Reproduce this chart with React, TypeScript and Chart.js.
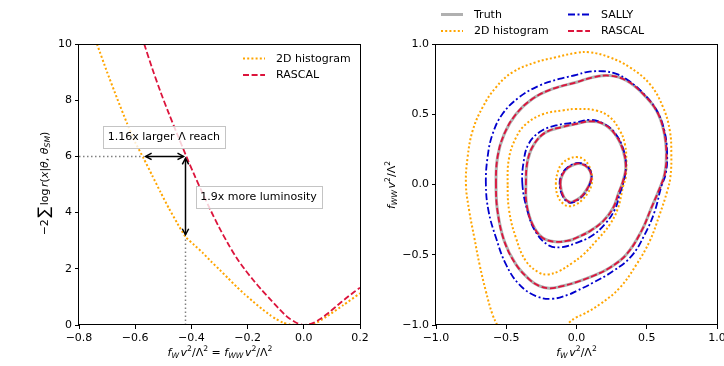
import React, { useEffect, useRef } from "react";
import { Chart, registerables } from "chart.js";
Chart.register(...registerables);

const FONT = '"DejaVu Sans", "Liberation Sans", sans-serif';
const MINUS = "\u2212";
const ORANGE = "#ffa500";
const CRIMSON = "#dc143c";
const BLUE = "#0000cd";
const GREY = "#b0b0b0";

// ---------- left panel: 1D likelihood scan ----------
const leftXRange = [-0.8, 0.2];
const leftYRange = [0, 10];
const leftXTicks = [-0.8, -0.6, -0.4, -0.2, 0.0, 0.2];
const leftYTicks = [0, 2, 4, 6, 8, 10];

const histScanX = [-0.736, -0.7, -0.665, -0.63, -0.6, -0.57, -0.54, -0.51, -0.48, -0.45, -0.421, -0.39, -0.358, -0.33, -0.299, -0.27, -0.239, -0.21, -0.18, -0.15, -0.121, -0.1, -0.073, -0.05, -0.02, 0.01, 0.04, 0.081, 0.141, 0.2];
const histScanY = [10.0, 9.0, 8.08, 7.2, 6.5, 5.93, 5.33, 4.73, 4.15, 3.62, 3.14, 2.85, 2.55, 2.26, 1.96, 1.67, 1.36, 1.09, 0.83, 0.58, 0.36, 0.22, 0.08, 0.02, 0.0, 0.0, 0.05, 0.3, 0.71, 1.13];

const rascalScanX = [-0.568, -0.54, -0.51, -0.48, -0.45, -0.42, -0.39, -0.36, -0.33, -0.3, -0.27, -0.24, -0.21, -0.18, -0.15, -0.12, -0.09, -0.06, -0.03, 0.0, 0.03, 0.06, 0.09, 0.12, 0.15, 0.18, 0.2];
const rascalScanY = [10.0, 9.15, 8.3, 7.52, 6.78, 6.05, 5.35, 4.68, 4.05, 3.45, 2.9, 2.4, 1.98, 1.6, 1.25, 0.92, 0.6, 0.3, 0.1, 0.0, 0.06, 0.22, 0.45, 0.7, 0.95, 1.18, 1.33];

const thresholdLevel = 6;
const histCrossing = -0.57;
const rascalCrossing = -0.421;
const histAtRascalCrossing = 3.14;
const reachLabel = { text: "1.16x larger \u039b reach", x: -0.498, y: 6.71 };
const lumiLabel = { text: "1.9x more luminosity", x: -0.161, y: 4.56 };

// ---------- right panel: 2D contours ----------
const rightRange = [-1, 1];
const rightTicks = [-1.0, -0.5, 0.0, 0.5, 1.0];

const truthOuter = [[-0.573, 0], [-0.562, 0.195], [-0.514, 0.36], [-0.431, 0.5], [-0.313, 0.61], [-0.171, 0.68], [0, 0.728], [0.118, 0.763], [0.237, 0.775], [0.355, 0.74], [0.474, 0.645], [0.569, 0.526], [0.621, 0.384], [0.64, 0.218], [0.628, 0.076], [0.595, -0.02], [0.533, -0.166], [0.462, -0.332], [0.355, -0.498], [0.237, -0.592], [0.118, -0.651], [0, -0.695], [-0.1, -0.723], [-0.194, -0.739], [-0.27, -0.72], [-0.336, -0.675], [-0.431, -0.569], [-0.514, -0.403], [-0.562, -0.19]];
const truthMiddle = [[-0.36, 0], [-0.348, 0.17], [-0.3, 0.29], [-0.218, 0.372], [-0.1, 0.41], [0, 0.432], [0.095, 0.45], [0.19, 0.432], [0.273, 0.36], [0.332, 0.242], [0.351, 0.123], [0.33, 0.02], [0.3, -0.06], [0.261, -0.166], [0.19, -0.26], [0.095, -0.332], [0, -0.379], [-0.052, -0.398], [-0.147, -0.408], [-0.242, -0.379], [-0.313, -0.284], [-0.355, -0.142]];
const truthInner = [[-0.115, 0], [-0.1, 0.07], [-0.06, 0.12], [0, 0.148], [0.04, 0.145], [0.08, 0.12], [0.105, 0.07], [0.1, 0.02], [0.07, -0.04], [0.03, -0.09], [-0.02, -0.12], [-0.05, -0.125], [-0.09, -0.09]];

const rascalOuter = truthOuter.map((p) => [p[0], p[1]]);
const rascalMiddle = truthMiddle.map((p) => [p[0], p[1]]);
const rascalInner = truthInner.map((p) => [p[0], p[1]]);

const sallyOuter = [[-0.645, 0], [-0.633, 0.194], [-0.597, 0.36], [-0.526, 0.503], [-0.408, 0.621], [-0.265, 0.704], [-0.123, 0.751], [0, 0.78], [0.071, 0.8], [0.19, 0.806], [0.284, 0.787], [0.37, 0.74], [0.474, 0.65], [0.569, 0.53], [0.625, 0.384], [0.645, 0.218], [0.635, 0.076], [0.604, -0.012], [0.557, -0.19], [0.486, -0.355], [0.391, -0.51], [0.261, -0.616], [0.118, -0.699], [0, -0.758], [-0.052, -0.782], [-0.171, -0.813], [-0.289, -0.794], [-0.408, -0.711], [-0.502, -0.569], [-0.573, -0.379], [-0.626, -0.19]];
const sallyMiddle = [[-0.385, 0], [-0.375, 0.17], [-0.34, 0.29], [-0.26, 0.375], [-0.147, 0.42], [0, 0.443], [0.095, 0.46], [0.19, 0.435], [0.275, 0.365], [0.335, 0.245], [0.352, 0.125], [0.335, 0.02], [0.31, -0.06], [0.273, -0.178], [0.2, -0.284], [0.107, -0.367], [0, -0.415], [-0.1, -0.445], [-0.194, -0.435], [-0.289, -0.34], [-0.348, -0.19]];
const sallyInner = [[-0.12, 0], [-0.105, 0.07], [-0.06, 0.125], [0, 0.152], [0.045, 0.148], [0.085, 0.12], [0.107, 0.07], [0.1, 0.02], [0.07, -0.045], [0.03, -0.095], [-0.02, -0.125], [-0.055, -0.128], [-0.095, -0.09]];

const histOuter = [[-0.565, -1.0], [-0.6, -0.92], [-0.645, -0.76], [-0.69, -0.57], [-0.727, -0.38], [-0.763, -0.19], [-0.787, 0.0], [-0.775, 0.194], [-0.739, 0.384], [-0.668, 0.55], [-0.573, 0.692], [-0.455, 0.799], [-0.289, 0.87], [-0.147, 0.905], [0.0, 0.937], [0.095, 0.941], [0.237, 0.905], [0.379, 0.834], [0.521, 0.716], [0.616, 0.55], [0.664, 0.384], [0.675, 0.218], [0.668, 0.05], [0.645, -0.05], [0.592, -0.213], [0.521, -0.403], [0.427, -0.569], [0.308, -0.735], [0.166, -0.853], [0.047, -0.924], [-0.005, -0.948], [-0.052, -0.983], [-0.065, -1.0]];
const histMiddle = [[-0.49, 0], [-0.48, 0.19], [-0.43, 0.335], [-0.36, 0.43], [-0.24, 0.5], [-0.1, 0.527], [0, 0.538], [0.14, 0.527], [0.237, 0.48], [0.308, 0.385], [0.344, 0.29], [0.355, 0.17], [0.35, 0.05], [0.332, -0.012], [0.296, -0.166], [0.237, -0.285], [0.142, -0.4], [0.047, -0.5], [-0.028, -0.557], [-0.123, -0.616], [-0.206, -0.64], [-0.265, -0.628], [-0.36, -0.545], [-0.431, -0.38], [-0.479, -0.19]];
const histInner = [[-0.147, 0], [-0.13, 0.1], [-0.1, 0.15], [-0.05, 0.185], [0, 0.195], [0.05, 0.18], [0.09, 0.13], [0.11, 0.06], [0.105, -0.01], [0.08, -0.06], [0.04, -0.11], [0, -0.14], [-0.05, -0.155], [-0.09, -0.14], [-0.13, -0.09]];

// ---------- styles ----------
const STYLE: Record<string, any> = {
  truth: { borderColor: GREY, borderWidth: 3, borderDash: [] },
  hist: { borderColor: ORANGE, borderWidth: 2, borderDash: [2, 2.2] },
  sally: { borderColor: BLUE, borderWidth: 1.8, borderDash: [7, 2.5, 2, 2.5] },
  rascal: { borderColor: CRIMSON, borderWidth: 1.8, borderDash: [6, 2.6] },
};

const fmt1 = (v: number) => (v < -1e-9 ? MINUS : "") + Math.abs(v).toFixed(1);
const fmtInt = (v: number) => String(Math.round(v));

function axis(range: number[], ticks: number[], fmt: (v: number) => string, size: number, isX: boolean) {
  return {
    type: "linear",
    min: range[0],
    max: range[1],
    afterBuildTicks: (s: any) => {
      s.ticks = ticks.map((v) => ({ value: v }));
    },
    afterFit: (s: any) => {
      if (isX) s.height = size;
      else s.width = size;
      s.paddingLeft = 0;
      s.paddingRight = 0;
      s.paddingTop = 0;
      s.paddingBottom = 0;
    },
    ticks: {
      callback: (v: any) => fmt(Number(v)),
      color: "#000",
      font: { family: FONT, size: 11 },
      padding: 3,
      maxRotation: 0,
      autoSkip: false,
    },
    grid: { display: true, drawOnChartArea: false, drawTicks: true, tickLength: 4, tickColor: "#000", tickWidth: 1, color: "#000" },
    border: { display: false },
  };
}

type Piece = { t: string; it?: boolean; sub?: boolean; sup?: boolean; scale?: number; dy?: number };

function drawMath(ctx: CanvasRenderingContext2D, pieces: Piece[], cx: number, cy: number, size: number, rotate: boolean) {
  ctx.save();
  ctx.translate(cx, cy);
  if (rotate) ctx.rotate(-Math.PI / 2);
  ctx.fillStyle = "#000";
  ctx.textBaseline = "alphabetic";
  ctx.textAlign = "left";
  const items = pieces.map((p) => {
    const fs = size * (p.sub || p.sup ? 0.7 : 1) * (p.scale || 1);
    const font = `${p.it ? "italic " : ""}${fs}px ${FONT}`;
    ctx.font = font;
    const w = ctx.measureText(p.t).width;
    const dy = p.sub ? size * 0.22 : p.sup ? -size * 0.42 : (p.dy || 0) * size;
    return { font, w, dy, t: p.t };
  });
  const total = items.reduce((s, i) => s + i.w, 0);
  let x = -total / 2;
  for (const i of items) {
    ctx.font = i.font;
    ctx.fillText(i.t, x, i.dy);
    x += i.w;
  }
  ctx.restore();
}

const thin: Piece = { t: " ", scale: 0.45 };
const fwLabel: Piece[] = [{ t: "f", it: true }, { t: "W", it: true, sub: true }, thin, { t: "v", it: true }, { t: "2", sup: true }, { t: "/\u039b" }, { t: "2", sup: true }];
const fwwLabel: Piece[] = [{ t: "f", it: true }, { t: "WW", it: true, sub: true }, thin, { t: "v", it: true }, { t: "2", sup: true }, { t: "/\u039b" }, { t: "2", sup: true }];
const leftXLabel: Piece[] = [...fwLabel, { t: " = " }, ...fwwLabel];
const leftYLabel: Piece[] = [
  { t: MINUS + "2" }, thin, { t: "\u2211", scale: 1.45, dy: 0.17 }, thin, { t: "log" }, thin,
  { t: "r", it: true }, { t: "(" }, { t: "x", it: true }, { t: "|" }, { t: "\u03b8", it: true }, { t: ", " },
  { t: "\u03b8", it: true }, { t: "SM", it: true, sub: true }, { t: ")" },
];

function styledLine(ctx: CanvasRenderingContext2D, st: any, x0: number, x1: number, y: number) {
  ctx.save();
  ctx.strokeStyle = st.borderColor;
  ctx.lineWidth = st.borderWidth;
  ctx.setLineDash(st.borderDash);
  ctx.beginPath();
  ctx.moveTo(x0, y);
  ctx.lineTo(x1, y);
  ctx.stroke();
  ctx.restore();
}

function legendItem(ctx: CanvasRenderingContext2D, st: any, label: string, x: number, y: number) {
  styledLine(ctx, st, x, x + 22, y);
  ctx.save();
  ctx.fillStyle = "#000";
  ctx.font = `11px ${FONT}`;
  ctx.textBaseline = "middle";
  ctx.textAlign = "left";
  ctx.fillText(label, x + 33, y + 0.5);
  ctx.restore();
}

const framePlugin = {
  id: "frame",
  afterDatasetsDraw(chart: any) {
    const { ctx, chartArea: a } = chart;
    ctx.save();
    ctx.strokeStyle = "#000";
    ctx.lineWidth = 1;
    ctx.setLineDash([]);
    ctx.strokeRect(Math.round(a.left) - 0.5, Math.round(a.top) + 0.5, Math.round(a.right - a.left) + 1, Math.round(a.bottom - a.top) - 1);
    ctx.restore();
  },
};

// close contour datasets smoothly (same mechanism the radar controller uses)
const loopPlugin = {
  id: "loopClose",
  afterDatasetUpdate(chart: any, args: any) {
    const ds = chart.data.datasets[args.index];
    const line = args.meta && args.meta.dataset;
    if (ds && ds.closed && line) {
      line._loop = true;
      line._fullLoop = true;
      line._pointsUpdated = false;
      delete line._segments;
      delete line._path;
    }
  },
};

function arrowHead(ctx: CanvasRenderingContext2D, x: number, y: number, ang: number) {
  const len = 6, half = 3.2;
  const ca = Math.cos(ang), sa = Math.sin(ang);
  ctx.beginPath();
  ctx.moveTo(x - len * ca - half * sa, y - len * sa + half * ca);
  ctx.lineTo(x, y);
  ctx.lineTo(x - len * ca + half * sa, y - len * sa - half * ca);
  ctx.stroke();
}

function doubleArrow(ctx: CanvasRenderingContext2D, x0: number, y0: number, x1: number, y1: number) {
  const shrink = 2;
  const d = Math.hypot(x1 - x0, y1 - y0);
  const ux = (x1 - x0) / d, uy = (y1 - y0) / d;
  const ax = x0 + ux * shrink, ay = y0 + uy * shrink;
  const bx = x1 - ux * shrink, by = y1 - uy * shrink;
  ctx.beginPath();
  ctx.moveTo(ax, ay);
  ctx.lineTo(bx, by);
  ctx.stroke();
  const ang = Math.atan2(uy, ux);
  arrowHead(ctx, bx, by, ang);
  arrowHead(ctx, ax, ay, ang + Math.PI);
}

function textBox(ctx: CanvasRenderingContext2D, text: string, cx: number, cy: number) {
  ctx.save();
  ctx.font = `11px ${FONT}`;
  const w = ctx.measureText(text).width;
  const padX = 4.7, h = 21.5;
  const bx = Math.round(cx - w / 2 - padX), by = Math.round(cy - h / 2);
  const bw = Math.round(w + 2 * padX), bh = Math.round(h);
  ctx.fillStyle = "rgba(255,255,255,0.8)";
  ctx.fillRect(bx, by, bw, bh);
  ctx.strokeStyle = "#c4c4c4";
  ctx.lineWidth = 1;
  ctx.strokeRect(bx + 0.5, by + 0.5, bw, bh);
  ctx.fillStyle = "#000";
  ctx.textAlign = "center";
  ctx.textBaseline = "middle";
  ctx.fillText(text, cx, cy + 0.5);
  ctx.restore();
}

const leftDecor = {
  id: "leftDecor",
  afterDatasetsDraw(chart: any) {
    const { ctx } = chart;
    const xs = chart.scales.x, ys = chart.scales.y;
    const px = (v: number) => xs.getPixelForValue(v);
    const py = (v: number) => ys.getPixelForValue(v);
    ctx.save();
    ctx.strokeStyle = "#000";
    ctx.lineWidth = 1.5;
    ctx.setLineDash([]);
    doubleArrow(ctx, px(histCrossing), py(thresholdLevel), px(rascalCrossing), py(thresholdLevel));
    doubleArrow(ctx, px(rascalCrossing), py(thresholdLevel), px(rascalCrossing), py(histAtRascalCrossing));
    ctx.restore();
    textBox(ctx, reachLabel.text, px(reachLabel.x), py(reachLabel.y));
    textBox(ctx, lumiLabel.text, px(lumiLabel.x), py(lumiLabel.y));
    legendItem(ctx, STYLE.hist, "2D histogram", 243, 58.5);
    legendItem(ctx, STYLE.rascal, "RASCAL", 243, 75);
  },
  afterDraw(chart: any) {
    const { ctx } = chart;
    drawMath(ctx, leftXLabel, 220, 355.5, 11, false);
    drawMath(ctx, leftYLabel, 47.5, 183.5, 11, true);
  },
};

const rightDecor = {
  id: "rightDecor",
  afterDraw(chart: any) {
    const { ctx } = chart;
    legendItem(ctx, STYLE.truth, "Truth", 79, 14.5);
    legendItem(ctx, STYLE.hist, "2D histogram", 79, 31);
    legendItem(ctx, STYLE.sally, "SALLY", 206, 14.5);
    legendItem(ctx, STYLE.rascal, "RASCAL", 206, 31);
    drawMath(ctx, fwLabel, 214.5, 355.5, 11, false);
    drawMath(ctx, fwwLabel, 33, 185, 11, true);
  },
};

const toPts = (xs: number[], ys: number[]) => xs.map((x, i) => ({ x, y: ys[i] }));
const pairPts = (arr: number[][]) => arr.map((p) => ({ x: p[0], y: p[1] }));

function lineDs(label: string, data: any[], st: any, tension = 0.4, closed = false) {
  return {
    label,
    data,
    closed,
    showLine: true,
    pointRadius: 0,
    pointHoverRadius: 0,
    fill: false,
    tension,
    spanGaps: false,
    borderColor: st.borderColor,
    borderWidth: st.borderWidth,
    borderDash: st.borderDash,
    borderCapStyle: "butt",
    borderJoinStyle: "round",
  };
}

function baseOptions(xAxis: any, yAxis: any, padding: any) {
  return {
    responsive: false,
    maintainAspectRatio: false,
    devicePixelRatio: 1,
    animation: false,
    events: [],
    layout: { padding },
    plugins: { legend: { display: false }, tooltip: { enabled: false }, title: { display: false } },
    scales: { x: xAxis, y: yAxis },
  };
}

const LEFT_W = 410;
const RIGHT_W = 362;

function leftConfig(): any {
  const guide = { borderColor: "#808080", borderWidth: 1.5, borderDash: [1.5, 2.5] };
  return {
    type: "line",
    data: {
      datasets: [
        lineDs("RASCAL", toPts(rascalScanX, rascalScanY), STYLE.rascal, 0.3),
        lineDs("2D histogram", toPts(histScanX, histScanY), STYLE.hist, 0.2),
        lineDs("guide-h", [{ x: leftXRange[0], y: thresholdLevel }, { x: histCrossing, y: thresholdLevel }], guide, 0),
        lineDs("guide-v", [{ x: rascalCrossing, y: leftYRange[0] }, { x: rascalCrossing, y: histAtRascalCrossing }], guide, 0),
      ],
    },
    options: baseOptions(
      axis(leftXRange, leftXTicks, fmt1, 41, true),
      axis(leftYRange, leftYTicks, fmtInt, 79, false),
      { left: 0, right: LEFT_W - 360, top: 44, bottom: 0 }
    ),
    plugins: [framePlugin, leftDecor],
  };
}

function rightConfig(): any {
  return {
    type: "line",
    data: {
      datasets: [
        lineDs("RASCAL", pairPts(rascalOuter), STYLE.rascal, 0.4, true),
        lineDs("RASCAL", pairPts(rascalMiddle), STYLE.rascal, 0.4, true),
        lineDs("RASCAL", pairPts(rascalInner), STYLE.rascal, 0.4, true),
        lineDs("SALLY", pairPts(sallyOuter), STYLE.sally, 0.4, true),
        lineDs("SALLY", pairPts(sallyMiddle), STYLE.sally, 0.4, true),
        lineDs("SALLY", pairPts(sallyInner), STYLE.sally, 0.4, true),
        lineDs("2D histogram", pairPts(histOuter), STYLE.hist, 0.4, false),
        lineDs("2D histogram", pairPts(histMiddle), STYLE.hist, 0.4, true),
        lineDs("2D histogram", pairPts(histInner), STYLE.hist, 0.4, true),
        lineDs("Truth", pairPts(truthOuter), STYLE.truth, 0.4, true),
        lineDs("Truth", pairPts(truthMiddle), STYLE.truth, 0.4, true),
        lineDs("Truth", pairPts(truthInner), STYLE.truth, 0.4, true),
      ],
    },
    options: baseOptions(
      axis(rightRange, rightTicks, fmt1, 41, true),
      axis(rightRange, rightTicks, fmt1, 74, false),
      { left: 0, right: 7, top: 44, bottom: 0 }
    ),
    plugins: [loopPlugin, framePlugin, rightDecor],
  };
}

export default function App() {
  const leftRef = useRef<HTMLCanvasElement>(null);
  const rightRef = useRef<HTMLCanvasElement>(null);
  useEffect(() => {
    const c1 = new Chart(leftRef.current as HTMLCanvasElement, leftConfig());
    const c2 = new Chart(rightRef.current as HTMLCanvasElement, rightConfig());
    return () => {
      c1.destroy();
      c2.destroy();
    };
  }, []);
  return (
    <div style={{ position: "absolute", left: 0, top: 0, width: 724, height: 366, background: "#fff", overflow: "hidden" }}>
      <canvas ref={leftRef} width={LEFT_W} height={366} style={{ position: "absolute", left: 0, top: 0, width: LEFT_W, height: 366 }} />
      <canvas ref={rightRef} width={RIGHT_W} height={366} style={{ position: "absolute", left: 362, top: 0, width: RIGHT_W, height: 366 }} />
    </div>
  );
}
